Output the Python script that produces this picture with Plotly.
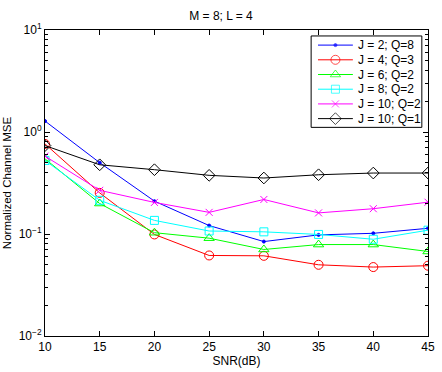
import plotly.graph_objects as go

snr = [10, 15, 20, 25, 30, 35, 40, 45]

names = ["J = 2; Q=8", "J = 4; Q=3", "J = 6; Q=2", "J = 8; Q=2", "J = 10; Q=2", "J = 10; Q=1"]
mse_j2_q8 = [1.28, 0.50, 0.21, 0.121, 0.0843, 0.098, 0.1016, 0.1137]
mse_j4_q3 = [0.764, 0.253, 0.099, 0.0616, 0.0611, 0.0499, 0.0474, 0.0489]
mse_j6_q2 = [0.546, 0.199, 0.103, 0.091, 0.0705, 0.0788, 0.0788, 0.0674]
mse_j8_q2 = [0.526, 0.214, 0.136, 0.107, 0.105, 0.099, 0.0888, 0.109]
mse_j10_q2 = [0.58, 0.268, 0.204, 0.163, 0.218, 0.161, 0.177, 0.205]
mse_j10_q1 = [0.736, 0.477, 0.427, 0.376, 0.354, 0.381, 0.396, 0.396]

series = [mse_j2_q8, mse_j4_q3, mse_j6_q2, mse_j8_q2, mse_j10_q2, mse_j10_q1]
colors = ["#0000ff", "#ff0000", "#00ff00", "#00ffff", "#ff00ff", "#000000"]
symbols = ["circle", "circle-open", "triangle-up-open", "square-open", "x-thin-open", "diamond-open"]
sizes = [3, 9, 9, 8, 7, 9]

W, H = 442, 372
ML, MR, MT, MB = 44, 7, 30, 34
FONT = "Liberation Sans, Arial"

fig = go.Figure()
for name, ys, c, s, sz in zip(names, series, colors, symbols, sizes):
    fig.add_trace(go.Scatter(
        x=snr, y=ys, name=name, mode="lines+markers", showlegend=False,
        line=dict(color=c, width=1),
        marker=dict(symbol=s, size=sz, color=c, line=dict(color=c, width=1)),
    ))

# Custom legend (MATLAB-like compact box), drawn on an overlay axis in pixel units
leg_x0, leg_x1, leg_y0, leg_y1 = 315.7, 428.7, 36, 128
row0, row_step = 45.2, 14.8
line_a, line_b, text_x = 322.7, 358.3, 361.0
for i, (name, c, s, sz) in enumerate(zip(names, colors, symbols, sizes)):
    yy = row0 + i * row_step
    fig.add_trace(go.Scatter(
        x=[line_a, (line_a + line_b) / 2, line_b], y=[yy, yy, yy],
        xaxis="x2", yaxis="y2", mode="lines+markers", showlegend=False, hoverinfo="skip",
        line=dict(color=c, width=1),
        marker=dict(symbol=s, size=[0, sz, 0], color=c, line=dict(color=c, width=1)),
    ))
    fig.add_annotation(x=text_x, y=yy, xref="x2", yref="y2", text=name, showarrow=False,
                       xanchor="left", yanchor="middle",
                       font=dict(family=FONT, size=12, color="black"))
fig.add_shape(type="rect", xref="x2", yref="y2", x0=leg_x0, x1=leg_x1, y0=leg_y0, y1=leg_y1,
              line=dict(color="black", width=1), fillcolor="white", layer="below")

axis_common = dict(
    showline=True, linecolor="black", linewidth=1, mirror="allticks",
    ticks="inside", ticklen=5, tickcolor="black", showgrid=False, zeroline=False,
    tickfont=dict(family=FONT, size=12, color="black"),
)

fig.update_layout(
    width=W, height=H,
    margin=dict(l=ML, r=MR, t=MT, b=MB),
    paper_bgcolor="white", plot_bgcolor="white",
    title=dict(text="M = 8; L = 4", x=0.5, xanchor="center", y=1 - 16/H, yanchor="middle",
               font=dict(family=FONT, size=12, color="black")),
    font=dict(family=FONT, size=12, color="black"),
    showlegend=False,
    xaxis=dict(range=[10, 45], tickvals=[10, 15, 20, 25, 30, 35, 40, 45],
               title=dict(text="SNR(dB)", standoff=2, font=dict(size=12)), **axis_common),
    yaxis=dict(type="log", range=[-2, 1], tickvals=[0.01, 0.1, 1, 10],
               ticktext=["10<sup>−2</sup>", "10<sup>−1</sup>", "10<sup>0</sup>", "10<sup>1</sup>"],
               minor=dict(ticks="inside", ticklen=3, tickcolor="black", dtick="D1", showgrid=False),
               title=dict(text="Normalized Channel MSE", standoff=4, font=dict(size=11.5)), **axis_common),
    xaxis2=dict(overlaying="x", anchor="y2", range=[ML, W - MR], visible=False, fixedrange=True),
    yaxis2=dict(overlaying="y", anchor="x2", range=[H - MB, MT], visible=False, fixedrange=True),
)

fig.write_html("out.html")
